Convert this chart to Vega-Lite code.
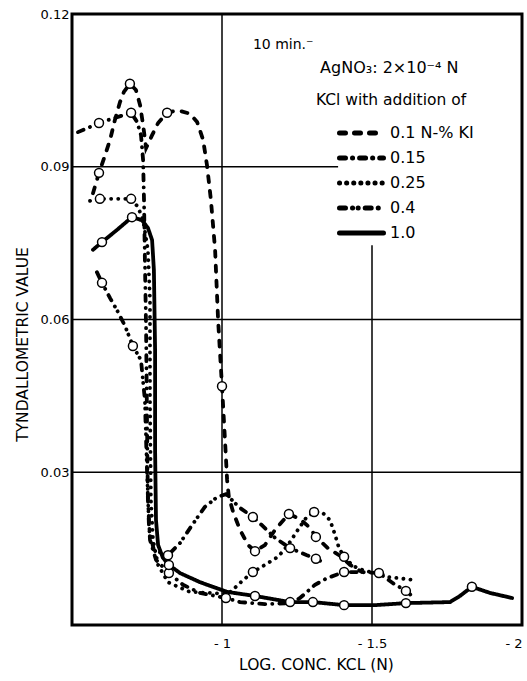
{
  "$schema": "https://vega.github.io/schema/vega-lite/v6.json",
  "width": 450,
  "height": 611,
  "autosize": {"type": "none"},
  "padding": {"left": 72, "top": 14, "right": 5, "bottom": 56},
  "background": "white",
  "config": {
    "view": {"stroke": "black", "strokeWidth": 3},
    "font": "DejaVu Sans"
  },
  "datasets": {
    "curves": [
      {"s": "0.1 N-% KI", "i": 1, "x": -0.570, "y": 0.0848},
      {"s": "0.1 N-% KI", "i": 2, "x": -0.590, "y": 0.0888},
      {"s": "0.1 N-% KI", "i": 3, "x": -0.607, "y": 0.0917},
      {"s": "0.1 N-% KI", "i": 4, "x": -0.627, "y": 0.0953},
      {"s": "0.1 N-% KI", "i": 5, "x": -0.643, "y": 0.0992},
      {"s": "0.1 N-% KI", "i": 6, "x": -0.660, "y": 0.1027},
      {"s": "0.1 N-% KI", "i": 7, "x": -0.673, "y": 0.1047},
      {"s": "0.1 N-% KI", "i": 8, "x": -0.693, "y": 0.1063},
      {"s": "0.1 N-% KI", "i": 9, "x": -0.713, "y": 0.1051},
      {"s": "0.1 N-% KI", "i": 10, "x": -0.727, "y": 0.1021},
      {"s": "0.1 N-% KI", "i": 11, "x": -0.737, "y": 0.0982},
      {"s": "0.1 N-% KI", "i": 12, "x": -0.747, "y": 0.0937},
      {"s": "0.1 N-% KI", "i": 13, "x": -0.767, "y": 0.0962},
      {"s": "0.1 N-% KI", "i": 14, "x": -0.787, "y": 0.0986},
      {"s": "0.1 N-% KI", "i": 15, "x": -0.817, "y": 0.1006},
      {"s": "0.1 N-% KI", "i": 16, "x": -0.853, "y": 0.1011},
      {"s": "0.1 N-% KI", "i": 17, "x": -0.893, "y": 0.1004},
      {"s": "0.1 N-% KI", "i": 18, "x": -0.917, "y": 0.0988},
      {"s": "0.1 N-% KI", "i": 19, "x": -0.937, "y": 0.0953},
      {"s": "0.1 N-% KI", "i": 20, "x": -0.950, "y": 0.0903},
      {"s": "0.1 N-% KI", "i": 21, "x": -0.963, "y": 0.0835},
      {"s": "0.1 N-% KI", "i": 22, "x": -0.977, "y": 0.0737},
      {"s": "0.1 N-% KI", "i": 23, "x": -0.987, "y": 0.0599},
      {"s": "0.1 N-% KI", "i": 24, "x": -1.000, "y": 0.0469},
      {"s": "0.1 N-% KI", "i": 25, "x": -1.010, "y": 0.0363},
      {"s": "0.1 N-% KI", "i": 26, "x": -1.017, "y": 0.0285},
      {"s": "0.1 N-% KI", "i": 27, "x": -1.023, "y": 0.0251},
      {"s": "0.1 N-% KI", "i": 28, "x": -1.037, "y": 0.0222},
      {"s": "0.1 N-% KI", "i": 29, "x": -1.060, "y": 0.0187},
      {"s": "0.1 N-% KI", "i": 30, "x": -1.087, "y": 0.0157},
      {"s": "0.1 N-% KI", "i": 31, "x": -1.110, "y": 0.0145},
      {"s": "0.1 N-% KI", "i": 32, "x": -1.143, "y": 0.0157},
      {"s": "0.1 N-% KI", "i": 33, "x": -1.177, "y": 0.0187},
      {"s": "0.1 N-% KI", "i": 34, "x": -1.223, "y": 0.0218},
      {"s": "0.1 N-% KI", "i": 35, "x": -1.260, "y": 0.0208},
      {"s": "0.1 N-% KI", "i": 36, "x": -1.293, "y": 0.0191},
      {"s": "0.1 N-% KI", "i": 37, "x": -1.313, "y": 0.0173},
      {"s": "0.1 N-% KI", "i": 38, "x": -1.353, "y": 0.0151},
      {"s": "0.1 N-% KI", "i": 39, "x": -1.393, "y": 0.0136},
      {"s": "0.1 N-% KI", "i": 40, "x": -1.427, "y": 0.0118},
      {"s": "0.1 N-% KI", "i": 41, "x": -1.467, "y": 0.0104},

      {"s": "0.15", "i": 1, "x": -0.520, "y": 0.0968},
      {"s": "0.15", "i": 2, "x": -0.590, "y": 0.0986},
      {"s": "0.15", "i": 3, "x": -0.643, "y": 0.0996},
      {"s": "0.15", "i": 4, "x": -0.697, "y": 0.1006},
      {"s": "0.15", "i": 5, "x": -0.717, "y": 0.0988},
      {"s": "0.15", "i": 6, "x": -0.730, "y": 0.0962},
      {"s": "0.15", "i": 7, "x": -0.737, "y": 0.0913},
      {"s": "0.15", "i": 8, "x": -0.740, "y": 0.0835},
      {"s": "0.15", "i": 9, "x": -0.743, "y": 0.0717},
      {"s": "0.15", "i": 10, "x": -0.747, "y": 0.0579},
      {"s": "0.15", "i": 11, "x": -0.750, "y": 0.0403},
      {"s": "0.15", "i": 12, "x": -0.753, "y": 0.0246},
      {"s": "0.15", "i": 13, "x": -0.760, "y": 0.0167},
      {"s": "0.15", "i": 14, "x": -0.780, "y": 0.0128},
      {"s": "0.15", "i": 15, "x": -0.823, "y": 0.0102},
      {"s": "0.15", "i": 16, "x": -0.870, "y": 0.0079},
      {"s": "0.15", "i": 17, "x": -0.927, "y": 0.0063},
      {"s": "0.15", "i": 18, "x": -1.013, "y": 0.0053},
      {"s": "0.15", "i": 19, "x": -1.060, "y": 0.0045},
      {"s": "0.15", "i": 20, "x": -1.143, "y": 0.0041},
      {"s": "0.15", "i": 21, "x": -1.227, "y": 0.0043},
      {"s": "0.15", "i": 22, "x": -1.260, "y": 0.0053},
      {"s": "0.15", "i": 23, "x": -1.310, "y": 0.0079},
      {"s": "0.15", "i": 24, "x": -1.350, "y": 0.0092},
      {"s": "0.15", "i": 25, "x": -1.407, "y": 0.0104},
      {"s": "0.15", "i": 26, "x": -1.460, "y": 0.0104},
      {"s": "0.15", "i": 27, "x": -1.523, "y": 0.0102},
      {"s": "0.15", "i": 28, "x": -1.570, "y": 0.0082},
      {"s": "0.15", "i": 29, "x": -1.613, "y": 0.0067},
      {"s": "0.15", "i": 30, "x": -1.637, "y": 0.0055},

      {"s": "0.25", "i": 1, "x": -0.560, "y": 0.0833},
      {"s": "0.25", "i": 2, "x": -0.593, "y": 0.0837},
      {"s": "0.25", "i": 3, "x": -0.643, "y": 0.0837},
      {"s": "0.25", "i": 4, "x": -0.697, "y": 0.0837},
      {"s": "0.25", "i": 5, "x": -0.720, "y": 0.0821},
      {"s": "0.25", "i": 6, "x": -0.737, "y": 0.0795},
      {"s": "0.25", "i": 7, "x": -0.753, "y": 0.0737},
      {"s": "0.25", "i": 8, "x": -0.760, "y": 0.0638},
      {"s": "0.25", "i": 9, "x": -0.760, "y": 0.0442},
      {"s": "0.25", "i": 10, "x": -0.763, "y": 0.0246},
      {"s": "0.25", "i": 11, "x": -0.770, "y": 0.0167},
      {"s": "0.25", "i": 12, "x": -0.787, "y": 0.0118},
      {"s": "0.25", "i": 13, "x": -0.820, "y": 0.0084},
      {"s": "0.25", "i": 14, "x": -0.893, "y": 0.0065},
      {"s": "0.25", "i": 15, "x": -1.020, "y": 0.0061},
      {"s": "0.25", "i": 16, "x": -1.043, "y": 0.0073},
      {"s": "0.25", "i": 17, "x": -1.070, "y": 0.0088},
      {"s": "0.25", "i": 18, "x": -1.103, "y": 0.0104},
      {"s": "0.25", "i": 19, "x": -1.143, "y": 0.0118},
      {"s": "0.25", "i": 20, "x": -1.187, "y": 0.0134},
      {"s": "0.25", "i": 21, "x": -1.220, "y": 0.0157},
      {"s": "0.25", "i": 22, "x": -1.253, "y": 0.0187},
      {"s": "0.25", "i": 23, "x": -1.280, "y": 0.0210},
      {"s": "0.25", "i": 24, "x": -1.307, "y": 0.0222},
      {"s": "0.25", "i": 25, "x": -1.333, "y": 0.0222},
      {"s": "0.25", "i": 26, "x": -1.360, "y": 0.0206},
      {"s": "0.25", "i": 27, "x": -1.377, "y": 0.0177},
      {"s": "0.25", "i": 28, "x": -1.390, "y": 0.0151},
      {"s": "0.25", "i": 29, "x": -1.407, "y": 0.0134},
      {"s": "0.25", "i": 30, "x": -1.437, "y": 0.0116},
      {"s": "0.25", "i": 31, "x": -1.477, "y": 0.0106},
      {"s": "0.25", "i": 32, "x": -1.523, "y": 0.0102},
      {"s": "0.25", "i": 33, "x": -1.557, "y": 0.0094},
      {"s": "0.25", "i": 34, "x": -1.587, "y": 0.0092},
      {"s": "0.25", "i": 35, "x": -1.617, "y": 0.0090},
      {"s": "0.25", "i": 36, "x": -1.643, "y": 0.0088},

      {"s": "0.4", "i": 1, "x": -0.583, "y": 0.0693},
      {"s": "0.4", "i": 2, "x": -0.600, "y": 0.0672},
      {"s": "0.4", "i": 3, "x": -0.627, "y": 0.0642},
      {"s": "0.4", "i": 4, "x": -0.653, "y": 0.0615},
      {"s": "0.4", "i": 5, "x": -0.677, "y": 0.0587},
      {"s": "0.4", "i": 6, "x": -0.703, "y": 0.0548},
      {"s": "0.4", "i": 7, "x": -0.730, "y": 0.0520},
      {"s": "0.4", "i": 8, "x": -0.743, "y": 0.0442},
      {"s": "0.4", "i": 9, "x": -0.750, "y": 0.0304},
      {"s": "0.4", "i": 10, "x": -0.757, "y": 0.0187},
      {"s": "0.4", "i": 11, "x": -0.773, "y": 0.0147},
      {"s": "0.4", "i": 12, "x": -0.820, "y": 0.0137},
      {"s": "0.4", "i": 13, "x": -0.860, "y": 0.0161},
      {"s": "0.4", "i": 14, "x": -0.900, "y": 0.0196},
      {"s": "0.4", "i": 15, "x": -0.943, "y": 0.0232},
      {"s": "0.4", "i": 16, "x": -0.983, "y": 0.0251},
      {"s": "0.4", "i": 17, "x": -1.013, "y": 0.0257},
      {"s": "0.4", "i": 18, "x": -1.060, "y": 0.0230},
      {"s": "0.4", "i": 19, "x": -1.103, "y": 0.0212},
      {"s": "0.4", "i": 20, "x": -1.133, "y": 0.0196},
      {"s": "0.4", "i": 21, "x": -1.177, "y": 0.0171},
      {"s": "0.4", "i": 22, "x": -1.227, "y": 0.0151},
      {"s": "0.4", "i": 23, "x": -1.283, "y": 0.0137},
      {"s": "0.4", "i": 24, "x": -1.313, "y": 0.0130},
      {"s": "0.4", "i": 25, "x": -1.343, "y": 0.0122},

      {"s": "1.0", "i": 1, "x": -0.570, "y": 0.0737},
      {"s": "1.0", "i": 2, "x": -0.600, "y": 0.0752},
      {"s": "1.0", "i": 3, "x": -0.650, "y": 0.0776},
      {"s": "1.0", "i": 4, "x": -0.700, "y": 0.0801},
      {"s": "1.0", "i": 5, "x": -0.733, "y": 0.0795},
      {"s": "1.0", "i": 6, "x": -0.753, "y": 0.0780},
      {"s": "1.0", "i": 7, "x": -0.767, "y": 0.0756},
      {"s": "1.0", "i": 8, "x": -0.773, "y": 0.0697},
      {"s": "1.0", "i": 9, "x": -0.777, "y": 0.0540},
      {"s": "1.0", "i": 10, "x": -0.777, "y": 0.0344},
      {"s": "1.0", "i": 11, "x": -0.780, "y": 0.0206},
      {"s": "1.0", "i": 12, "x": -0.787, "y": 0.0157},
      {"s": "1.0", "i": 13, "x": -0.803, "y": 0.0132},
      {"s": "1.0", "i": 14, "x": -0.823, "y": 0.0118},
      {"s": "1.0", "i": 15, "x": -0.860, "y": 0.0102},
      {"s": "1.0", "i": 16, "x": -0.927, "y": 0.0084},
      {"s": "1.0", "i": 17, "x": -1.017, "y": 0.0065},
      {"s": "1.0", "i": 18, "x": -1.110, "y": 0.0057},
      {"s": "1.0", "i": 19, "x": -1.227, "y": 0.0045},
      {"s": "1.0", "i": 20, "x": -1.303, "y": 0.0045},
      {"s": "1.0", "i": 21, "x": -1.407, "y": 0.0039},
      {"s": "1.0", "i": 22, "x": -1.510, "y": 0.0039},
      {"s": "1.0", "i": 23, "x": -1.613, "y": 0.0043},
      {"s": "1.0", "i": 24, "x": -1.760, "y": 0.0045},
      {"s": "1.0", "i": 25, "x": -1.793, "y": 0.0057},
      {"s": "1.0", "i": 26, "x": -1.833, "y": 0.0075},
      {"s": "1.0", "i": 27, "x": -1.893, "y": 0.0063},
      {"s": "1.0", "i": 28, "x": -1.967, "y": 0.0053}
    ],
    "markers": [
      {"s": "0.1 N-% KI", "x": -0.590, "y": 0.0888},
      {"s": "0.1 N-% KI", "x": -0.693, "y": 0.1063},
      {"s": "0.1 N-% KI", "x": -0.817, "y": 0.1006},
      {"s": "0.1 N-% KI", "x": -1.000, "y": 0.0469},
      {"s": "0.1 N-% KI", "x": -1.110, "y": 0.0145},
      {"s": "0.1 N-% KI", "x": -1.223, "y": 0.0218},
      {"s": "0.1 N-% KI", "x": -1.313, "y": 0.0173},
      {"s": "0.15", "x": -0.590, "y": 0.0986},
      {"s": "0.15", "x": -0.697, "y": 0.1006},
      {"s": "0.15", "x": -0.823, "y": 0.0102},
      {"s": "0.15", "x": -1.013, "y": 0.0053},
      {"s": "0.15", "x": -1.407, "y": 0.0104},
      {"s": "0.15", "x": -1.523, "y": 0.0102},
      {"s": "0.15", "x": -1.613, "y": 0.0067},
      {"s": "0.25", "x": -0.593, "y": 0.0837},
      {"s": "0.25", "x": -0.697, "y": 0.0837},
      {"s": "0.25", "x": -1.103, "y": 0.0104},
      {"s": "0.25", "x": -1.307, "y": 0.0222},
      {"s": "0.25", "x": -1.407, "y": 0.0134},
      {"s": "0.4", "x": -0.600, "y": 0.0672},
      {"s": "0.4", "x": -0.703, "y": 0.0548},
      {"s": "0.4", "x": -0.820, "y": 0.0137},
      {"s": "0.4", "x": -1.103, "y": 0.0212},
      {"s": "0.4", "x": -1.227, "y": 0.0151},
      {"s": "0.4", "x": -1.313, "y": 0.0130},
      {"s": "1.0", "x": -0.600, "y": 0.0752},
      {"s": "1.0", "x": -0.700, "y": 0.0801},
      {"s": "1.0", "x": -0.823, "y": 0.0118},
      {"s": "1.0", "x": -1.110, "y": 0.0057},
      {"s": "1.0", "x": -1.227, "y": 0.0045},
      {"s": "1.0", "x": -1.303, "y": 0.0045},
      {"s": "1.0", "x": -1.407, "y": 0.0039},
      {"s": "1.0", "x": -1.613, "y": 0.0043},
      {"s": "1.0", "x": -1.833, "y": 0.0075}
    ],
    "hgrid": [
      {"y": 0.03, "x": -0.5, "x2": -2.0},
      {"y": 0.06, "x": -0.5, "x2": -2.0},
      {"y": 0.09, "x": -0.5, "x2": -1.387}
    ],
    "vgrid": [
      {"x": -1.0, "y": 0.0, "y2": 0.12},
      {"x": -1.5, "y": 0.0, "y2": 0.0746}
    ],
    "notes": [
      {"k": "time", "x": -1.103, "y": 0.1139, "text": "10 min.⁻"},
      {"k": "salt", "x": -1.327, "y": 0.1094, "text": "AgNO₃: 2×10⁻⁴ N"},
      {"k": "kcl", "x": -1.313, "y": 0.1031, "text": "KCl  with addition of"}
    ]
  },
  "encoding": {
    "x": {
      "field": "x",
      "type": "quantitative",
      "scale": {"domain": [-0.5, -2.0], "nice": false, "zero": false},
      "axis": {
        "values": [-1, -1.5, -2],
        "labelExpr": "'- ' + (-datum.value)",
        "grid": false,
        "ticks": false,
        "domain": false,
        "labelFontSize": 13,
        "labelColor": "black",
        "labelPadding": 12,
        "title": "LOG. CONC. KCL  (N)",
        "titleFontSize": 15.5,
        "titleFontWeight": "normal",
        "titleColor": "black",
        "titlePadding": 7,
        "titleX": 244
      }
    },
    "y": {
      "field": "y",
      "type": "quantitative",
      "scale": {"domain": [0, 0.12], "nice": false},
      "axis": {
        "values": [0.03, 0.06, 0.09, 0.12],
        "format": ".2f",
        "grid": false,
        "ticks": false,
        "domain": false,
        "labelFontSize": 13,
        "labelColor": "black",
        "labelPadding": 3,
        "title": "TYNDALLOMETRIC  VALUE",
        "titleFontSize": 15.5,
        "titleFontWeight": "normal",
        "titleColor": "black",
        "titlePadding": 10,
        "titleY": 330
      }
    }
  },
  "layer": [
    {
      "data": {"name": "hgrid"},
      "mark": {"type": "rule", "color": "black", "strokeWidth": 1.5},
      "encoding": {"x2": {"field": "x2"}}
    },
    {
      "data": {"name": "vgrid"},
      "mark": {"type": "rule", "color": "black", "strokeWidth": 1.5},
      "encoding": {"y2": {"field": "y2"}}
    },
    {
      "data": {"name": "curves"},
      "mark": {"type": "line", "color": "black", "strokeWidth": 3.8, "strokeCap": "round", "interpolate": "linear"},
      "encoding": {
        "order": {"field": "i", "type": "quantitative"},
        "strokeDash": {
          "field": "s",
          "type": "nominal",
          "scale": {
            "domain": ["0.1 N-% KI", "0.15", "0.25", "0.4", "1.0"],
            "range": [[6, 9], [6, 7, 0.1, 7], [0.1, 7], [6, 7, 0.1, 5.5, 0.1, 7], [1, 0]]
          },
          "legend": {
            "orient": "none",
            "legendX": 265,
            "legendY": 108,
            "title": null,
            "symbolType": "stroke",
            "symbolSize": 1936,
            "symbolStrokeWidth": 5,
            "symbolStrokeColor": "black",
            "clipHeight": 22,
            "rowPadding": 3,
            "labelFontSize": 16,
            "labelColor": "black",
            "labelOffset": 4,
            "padding": 0,
            "encode": {"symbols": {"update": {"strokeCap": {"value": "round"}}}}
          }
        }
      }
    },
    {
      "data": {"name": "markers"},
      "mark": {"type": "point", "shape": "circle", "filled": true, "fill": "white", "stroke": "black", "strokeWidth": 1.5, "size": 80, "opacity": 1}
    },
    {
      "data": {"name": "notes"},
      "transform": [{"filter": "datum.k == 'time'"}],
      "mark": {"type": "text", "align": "left", "baseline": "middle", "fontSize": 14, "color": "black"},
      "encoding": {"text": {"field": "text"}}
    },
    {
      "data": {"name": "notes"},
      "transform": [{"filter": "datum.k == 'salt'"}],
      "mark": {"type": "text", "align": "left", "baseline": "middle", "fontSize": 16, "color": "black"},
      "encoding": {"text": {"field": "text"}}
    },
    {
      "data": {"name": "notes"},
      "transform": [{"filter": "datum.k == 'kcl'"}],
      "mark": {"type": "text", "align": "left", "baseline": "middle", "fontSize": 15.5, "color": "black"},
      "encoding": {"text": {"field": "text"}}
    }
  ]
}
